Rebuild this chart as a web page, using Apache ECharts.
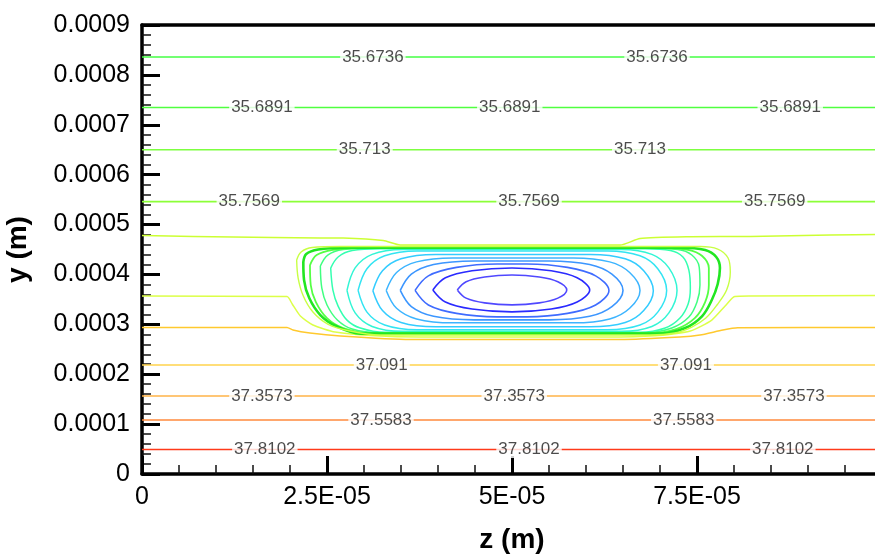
<!DOCTYPE html>
<html>
<head>
<meta charset="utf-8">
<script src="https://cdn.jsdelivr.net/npm/echarts@6/dist/echarts.min.js"></script>
<style>
  html, body { margin: 0; padding: 0; background: #fff; }
  #chart { width: 875px; height: 556px; }
</style>
</head>
<body>
<div id="chart"></div>
<script>
// Coordinates are in micrometres (z, y); tick text shows metres.
const zTickText = { 0: '0', 25: '2.5E-05', 50: '5E-05', 75: '7.5E-05' };
const yTickText = ['0', '0.0001', '0.0002', '0.0003', '0.0004', '0.0005', '0.0006', '0.0007', '0.0008', '0.0009'];

// Labelled, flat isotherms: level, height and where the labels sit along z
const isoLevels = ['35.6736', '35.6891', '35.713', '35.7569', '37.091', '37.3573', '37.5583', '37.8102'];
const isoHeights = [836, 734.5, 650, 546, 218.4, 156.3, 108.2, 49.1];
const isoLabelZ = [
  [31.2, 69.6],
  [16.2, 49.7, 87.6],
  [30.1, 67.3],
  [14.5, 52.3, 85.5],
  [32.4, 73.5],
  [16.2, 50.3, 88.1],
  [32.3, 73.2],
  [16.6, 52.3, 86.6]
];

// Unlabelled isotherms that bend around the cold cell
const isoUpperBend = [[0, 478.0], [6.9, 476.3], [17.7, 474.0], [27.2, 472.9], [32.6, 467.9], [34.9, 458.9], [64.6, 458.9], [67.3, 471.9], [74.1, 475.5], [82.2, 476.3], [93.0, 479.0], [100, 480.0]];
const isoMiddleBend = [[0, 356.7], [19.6, 355.7], [20.3, 340.7], [21.4, 316.6], [23.1, 298.6], [26.1, 284.6], [31.5, 277.0], [37.6, 274.5], [62.6, 274.5], [69.3, 277.0], [74.1, 286.6], [77.0, 308.6], [78.8, 336.7], [80.1, 355.7], [82.2, 356.7], [100, 357.7]];
const isoLowerBend = [[0, 293.6], [19.6, 293.6], [20.4, 288.6], [22.7, 282.6], [26.8, 276.6], [36.2, 269.5], [64.6, 269.5], [72.7, 274.5], [75.4, 278.6], [78.5, 288.6], [80.5, 293.0], [100, 293.6]];

// Closed isotherms of the cold cell, innermost first
const ring01 = [[42.6, 369], [43.8, 385.5], [46.3, 395], [50, 399], [53.7, 395], [56.2, 385.5], [57.4, 369], [56.2, 352.5], [53.7, 343], [50, 339], [46.3, 343], [43.8, 352.5], [42.6, 369]];
const ring02 = [[39.3, 369], [41.0, 393.2], [44.6, 407.3], [50, 413], [55.3, 407.3], [58.8, 393.2], [60.5, 369], [58.8, 344.8], [55.3, 330.7], [50, 325], [44.6, 330.7], [41.0, 344.8], [39.3, 369]];
const ring03 = [[36.9, 368], [38.7, 397.2], [42.5, 414.1], [48.0, 421], [52.0, 421], [57.5, 414.1], [61.3, 397.2], [63.1, 368], [61.3, 338.8], [57.5, 321.9], [52.0, 315], [48.0, 315], [42.5, 321.9], [38.7, 338.8], [36.9, 368]];
const ring04 = [[34.9, 368], [36.4, 400.5], [39.4, 419.9], [44.9, 427], [55.0, 427], [60.5, 419.9], [63.5, 400.5], [65.0, 368], [63.5, 335.5], [60.5, 316.1], [55.0, 309], [44.9, 309], [39.4, 316.1], [36.4, 335.5], [34.9, 368]];
const ring05 = [[33.0, 368], [34.4, 403.8], [37.1, 425.2], [42.0, 433], [58.3, 433], [63.2, 425.2], [65.9, 403.8], [67.3, 368], [65.9, 332.2], [63.2, 310.8], [58.3, 303], [42.0, 303], [37.1, 310.8], [34.4, 332.2], [33.0, 368]];
const ring06 = [[31.2, 367.5], [32.5, 407.4], [35.0, 431.3], [39.7, 440], [60.6, 440], [65.3, 431.3], [67.8, 407.4], [69.1, 367.5], [67.8, 327.6], [65.3, 303.7], [60.6, 295], [39.7, 295], [35.0, 303.7], [32.5, 327.6], [31.2, 367.5]];
const ring07 = [[29.2, 368], [30.4, 411.5], [32.8, 437.5], [37.2, 447], [62.9, 447], [67.3, 437.5], [69.7, 411.5], [70.9, 368], [69.7, 324.5], [67.3, 298.5], [62.9, 289], [37.2, 289], [32.8, 298.5], [30.4, 324.5], [29.2, 368]];
const ring08 = [[27.7, 368], [28.8, 413.1], [31.1, 440.2], [35.2, 450], [64.8, 450], [68.9, 440.2], [71.2, 413.1], [72.3, 368], [71.2, 322.9], [68.9, 295.8], [64.8, 286], [35.2, 286], [31.1, 295.8], [28.8, 322.9], [27.7, 368]];
const ring09 = [[25.5, 412.8], [25.8, 368.7], [26.5, 336.6], [27.7, 308.5], [29.5, 292.6], [32.8, 284.0], [67.3, 284.0], [70.7, 292.6], [72.7, 312.6], [73.8, 340.7], [74.1, 372.7], [73.9, 408.8], [73.1, 434.9], [71.4, 447.9], [68.0, 451.3], [32.2, 451.3], [28.4, 447.9], [26.5, 434.9], [25.5, 412.8]];
const ring10 = [[24.1, 416.8], [24.3, 372.7], [25.0, 338.7], [26.4, 308.6], [28.4, 290.6], [32.2, 283.0], [68.0, 283.0], [71.6, 292.6], [73.9, 314.6], [75.0, 344.7], [75.4, 378.8], [75.3, 414.8], [74.3, 438.9], [72.4, 449.9], [68.6, 452.3], [30.8, 452.3], [27.2, 449.9], [25.1, 438.9], [24.1, 416.8]];
const ring11 = [[22.7, 418.8], [22.8, 378.8], [23.5, 344.7], [25.0, 312.6], [27.2, 292.6], [30.8, 282.2], [68.6, 282.2], [72.2, 290.6], [74.7, 312.6], [76.1, 344.7], [76.6, 378.8], [76.6, 412.8], [75.7, 436.9], [73.8, 449.3], [70.0, 452.9], [29.5, 452.9], [25.8, 449.3], [23.6, 438.9], [22.7, 418.8]];
const ring12 = [[21.8, 424.8], [21.9, 388.8], [22.6, 352.7], [24.1, 318.6], [26.2, 296.6], [29.5, 281.4], [70.0, 281.4], [73.4, 292.6], [75.7, 316.6], [77.0, 348.7], [77.8, 380.8], [78.1, 412.8], [77.6, 434.9], [76.1, 448.9], [72.7, 453.5], [27.4, 453.5], [23.8, 449.9], [22.2, 440.9], [21.8, 424.8]];
const ring13 = [[20.9, 428.9], [21.1, 392.8], [21.8, 356.7], [23.1, 324.6], [25.1, 300.6], [28.1, 286.6], [32.2, 278.6], [68.6, 278.6], [72.0, 282.6], [74.3, 294.6], [76.2, 312.6], [77.7, 338.7], [79.0, 368.7], [79.5, 404.8], [79.2, 432.9], [77.8, 450.9], [75.4, 455.9], [26.8, 455.9], [23.0, 453.9], [21.5, 444.9], [20.9, 428.9]];

// Styling
const FONT = "'Liberation Sans', Arial, Helvetica, sans-serif";
const isoColors = ['#44ff44', '#50ff40', '#7dff40', '#8cff38', '#ffd34d', '#ffb347', '#ff8a3d', '#ff3a1a'];
const bendColors = ['#ccff33', '#dcff48', '#ffc92e'];
const ringSet = [ring01, ring02, ring03, ring04, ring05, ring06, ring07, ring08, ring09, ring10, ring11, ring12, ring13];
const ringColors = ['#5048ff', '#2a2aff', '#3f6cff', '#3c96ff', '#3cb4ff', '#33ccff', '#33e4f2', '#33f5d5', '#33ffb0', '#40ff80', '#55ff44', '#22e622', '#c8ff44'];
const ringWidths = [1.6, 1.6, 1.6, 1.6, 1.5, 1.5, 1.5, 1.5, 1.5, 1.5, 1.8, 2.6, 1.4];

function lineSeries(data, color, width, smooth) {
  return {
    type: 'line',
    data: data,
    showSymbol: false,
    symbol: 'none',
    smooth: smooth,
    lineStyle: { color: color, width: width },
    silent: true,
    z: 2
  };
}

const series = [];
isoHeights.forEach((h, i) => {
  series.push(lineSeries([[0, h], [100, h]], isoColors[i], 1.6, false));
});
series.push(lineSeries(isoUpperBend, bendColors[0], 1.5, 0.2));
series.push(lineSeries(isoMiddleBend, bendColors[1], 1.5, 0.2));
series.push(lineSeries(isoLowerBend, bendColors[2], 1.5, 0.2));
ringSet.forEach((r, i) => {
  series.push(lineSeries(r, ringColors[i], ringWidths[i], 0.35));
});

// Contour labels sitting on their isotherms
const labelData = [];
isoLevels.forEach((lvl, i) => {
  isoLabelZ[i].forEach(z => labelData.push([z, isoHeights[i], lvl]));
});
series.push({
  type: 'scatter',
  data: labelData,
  symbolSize: 1,
  itemStyle: { color: 'rgba(0,0,0,0)' },
  silent: true,
  z: 5,
  label: {
    show: true,
    position: 'inside',
    formatter: p => p.value[2],
    fontFamily: FONT,
    fontSize: 17,
    color: '#1e1e1e',
    backgroundColor: '#fff',
    padding: [0, 2]
  }
});

const axisLineStyle = { color: '#000', width: 3.5 };

const option = {
  animation: false,
  backgroundColor: '#fff',
  grid: { left: 142, right: -7, top: 25, bottom: 82, containLabel: false, outerBoundsMode: 'none' },
  xAxis: [
    {
      type: 'value', min: 0, max: 100, interval: 25, position: 'bottom',
      axisLine: { show: true, lineStyle: axisLineStyle },
      axisTick: { show: true, inside: true, length: 18, lineStyle: { color: '#000', width: 3 } },
      minorTick: { show: true, splitNumber: 5, length: 9, lineStyle: { color: '#111', width: 1.5 } },
      splitLine: { show: false },
      axisLabel: {
        formatter: v => (zTickText[v] !== undefined ? zTickText[v] : ''),
        fontFamily: FONT, fontSize: 25, color: '#000', margin: 11
      },
      name: 'z (m)', nameLocation: 'middle', nameGap: 52,
      nameTextStyle: { fontFamily: FONT, fontSize: 28, fontWeight: 'bold', color: '#000' }
    },
    {
      type: 'value', min: 0, max: 100, position: 'top',
      axisLine: { show: true, lineStyle: axisLineStyle },
      axisTick: { show: false }, axisLabel: { show: false }, splitLine: { show: false }
    }
  ],
  yAxis: {
    type: 'value', min: 0, max: 900, interval: 100,
    axisLine: { show: true, lineStyle: axisLineStyle },
    axisTick: { show: true, inside: true, length: 18, lineStyle: { color: '#000', width: 3 } },
    minorTick: { show: true, splitNumber: 5, length: 9, lineStyle: { color: '#111', width: 1.5 } },
    splitLine: { show: false },
    axisLabel: {
      formatter: v => yTickText[Math.round(v / 100)],
      fontFamily: FONT, fontSize: 25, color: '#000', margin: 12
    },
    name: 'y (m)', nameLocation: 'middle', nameGap: 110, nameRotate: 90,
    nameTextStyle: { fontFamily: FONT, fontSize: 28, fontWeight: 'bold', color: '#000' }
  },
  series: series
};

const chart = echarts.init(document.getElementById('chart'), null, { renderer: 'canvas' });
chart.setOption(option);
</script>
</body>
</html>
